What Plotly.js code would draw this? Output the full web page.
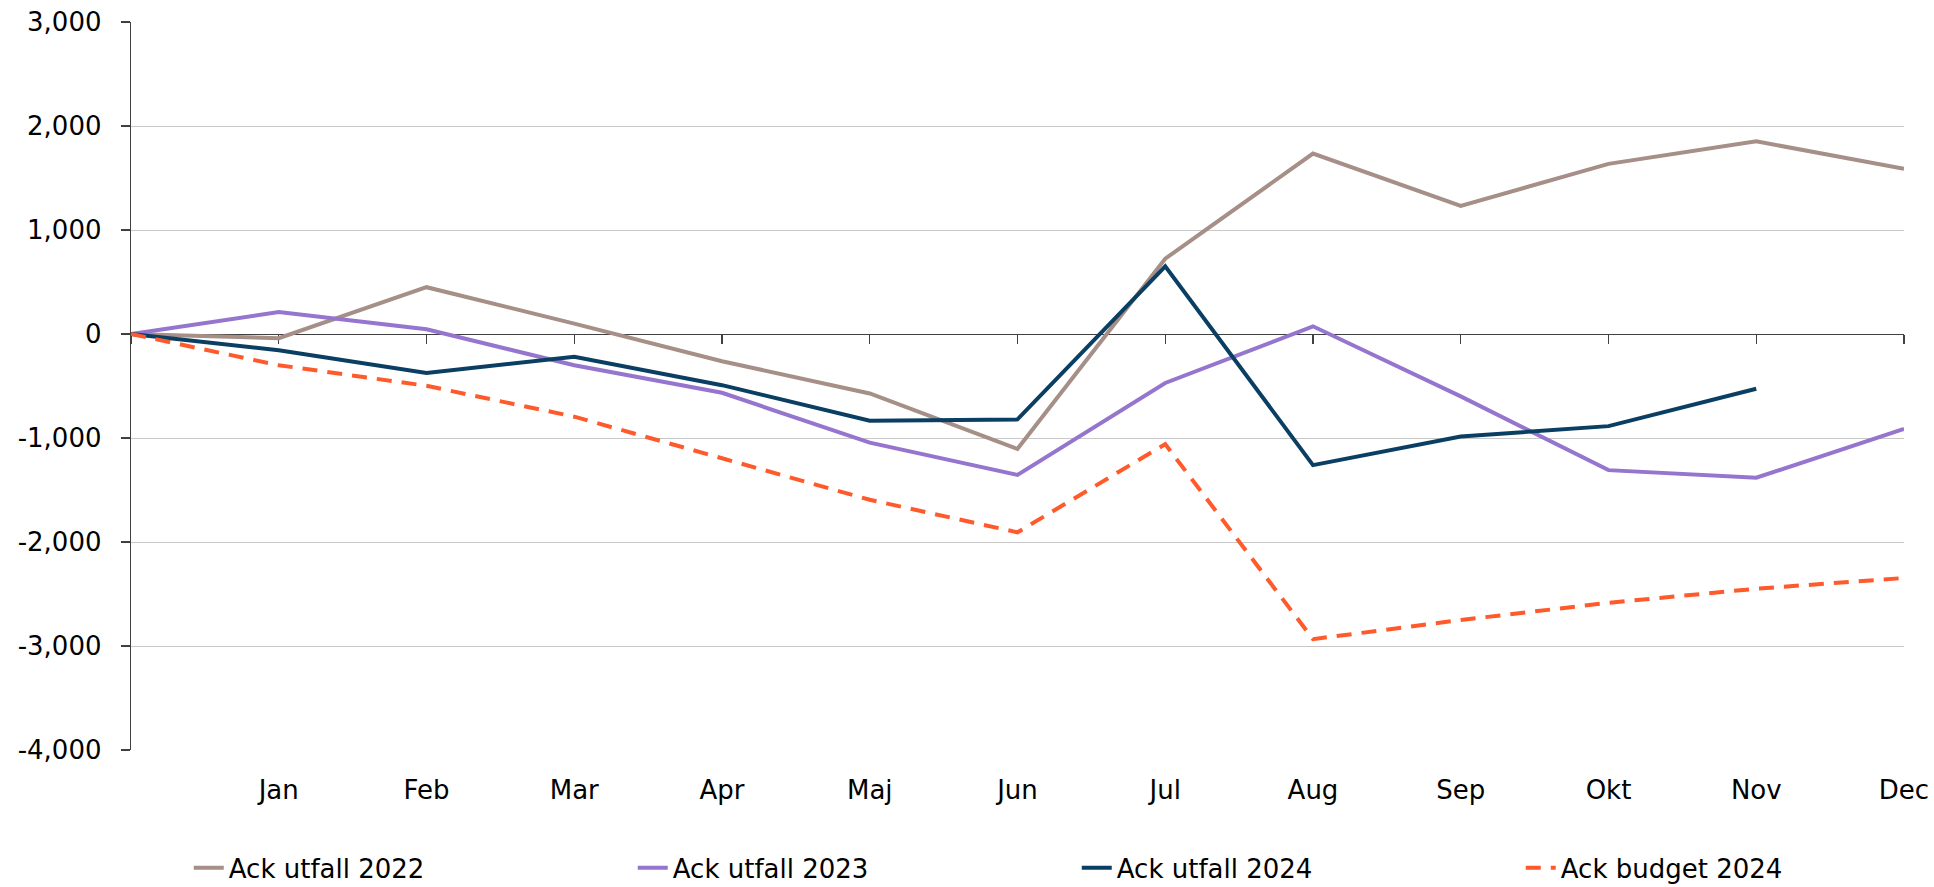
<!DOCTYPE html>
<html>
<head>
<meta charset="utf-8">
<script src="https://cdn.plot.ly/plotly-3.0.1.min.js"></script>
<style>html,body{margin:0;padding:0;background:#fff;}#chart{width:1934px;height:887px;}</style>
</head>
<body>
<div id="chart"></div>
<script>
const positions = [0,1,2,3,4,5,6,7,8,9,10,11,12];
const months = ["Jan","Feb","Mar","Apr","Maj","Jun","Jul","Aug","Sep","Okt","Nov","Dec"];
const monthPositions = [1,2,3,4,5,6,7,8,9,10,11,12];
const utfall2022 = [0,-40,450,100,-262,-572,-1105,724,1735,1232,1636,1853,1588];
const utfall2023 = [0,211,45,-300,-565,-1045,-1355,-471,74,-600,-1309,-1382,-912];
const utfall2024 = [0,-157,-374,-220,-492,-834,-821,651,-1261,-985,-886,-526,null];
const budget2024 = [0,-300,-498,-795,-1195,-1594,-1907,-1059,-2934,-2750,-2585,-2449,-2346];
const seriesNames = ["Ack utfall 2022","Ack utfall 2023","Ack utfall 2024","Ack budget 2024"];
const yTickVals = [-4000,-3000,-2000,-1000,0,1000,2000,3000];
const yTickText = ["-4,000","-3,000","-2,000","-1,000","0","1,000","2,000","3,000"];

const FONT = "DejaVu Sans, Verdana, sans-serif";
const mk = (y, name, color, dash) => ({
  x: positions, y: y, name: name, type: "scatter", mode: "lines",
  line: {color: color, width: 4, dash: dash || "solid"},
  connectgaps: false, hoverinfo: "skip"
});
const traces = [
  {x: [null], y: [null], xaxis: "x2", yaxis: "y", type: "scatter", mode: "lines", showlegend: false, hoverinfo: "skip"},
  mk(utfall2022, seriesNames[0], "#a58f87"),
  mk(utfall2023, seriesNames[1], "#9575cd"),
  mk(utfall2024, seriesNames[2], "#0a3f63"),
  mk(budget2024, seriesNames[3], "#ff5a2b", "15px,10px")
];

const layout = {
  width: 1934, height: 887,
  margin: {l: 131, r: 30, t: 22, b: 137, autoexpand: false},
  paper_bgcolor: "#fff", plot_bgcolor: "rgba(0,0,0,0)",
  font: {family: FONT, size: 26, color: "#000"},
  showlegend: true,
  legend: {
    orientation: "h", xref: "container", x: 0.0976, xanchor: "left", y: -0.162, yanchor: "middle",
    entrywidth: 399, entrywidthmode: "pixels",
    font: {family: FONT, size: 26, color: "#000"}, traceorder: "normal"
  },
  xaxis: {
    range: [0, 12], tickmode: "array", tickvals: monthPositions, ticktext: months,
    showgrid: false, zeroline: false, showline: false,
    ticks: "", ticklabelstandoff: 22,
    tickfont: {family: FONT, size: 26, color: "#000"}
  },
  xaxis2: {
    overlaying: "x", anchor: "free", position: 4/7, side: "bottom",
    range: [0, 12], tickmode: "array", tickvals: positions,
    showticklabels: false, showgrid: false, zeroline: false,
    showline: true, linecolor: "#404040", linewidth: 1.3,
    ticks: "outside", ticklen: 9, tickwidth: 1.3, tickcolor: "#404040",
    layer: "below traces"
  },
  yaxis: {
    range: [-4000, 3000], tickmode: "array", tickvals: yTickVals, ticktext: yTickText,
    showgrid: true, gridcolor: "#c8c8c8", gridwidth: 1, zeroline: false,
    showline: true, linecolor: "#404040", linewidth: 1.3,
    ticks: "outside", ticklen: 9, tickwidth: 1.3, tickcolor: "#404040",
    ticklabelstandoff: 14,
    tickfont: {family: FONT, size: 26, color: "#000"}
  }
};

Plotly.newPlot("chart", traces, layout, {displayModeBar: false, staticPlot: true});
</script>
</body>
</html>
